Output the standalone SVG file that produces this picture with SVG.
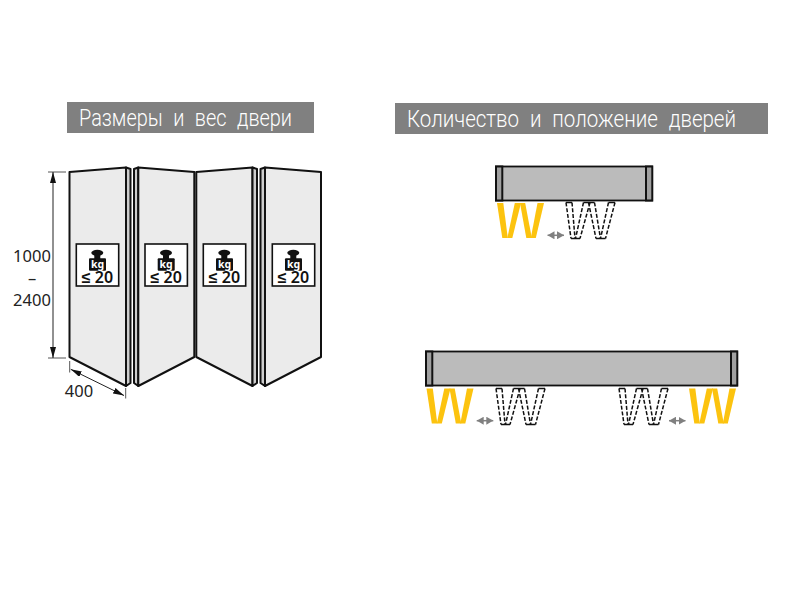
<svg xmlns="http://www.w3.org/2000/svg" width="800" height="600" viewBox="0 0 800 600">
<style>
.hdr{fill:#808080}
.ht{font-family:Roboto,"Open Sans",sans-serif;font-weight:300;font-size:24.500px;fill:#fff;word-spacing:7px}
.dim{font-family:"Noto Sans","Open Sans",sans-serif;font-size:16.500px;fill:#222;text-anchor:middle}
.door{fill:#ebebeb;stroke:#111;stroke-width:2;stroke-linejoin:round}
.side{fill:#cdcdcd;stroke:#111;stroke-width:2;stroke-linejoin:round}
.box{fill:#fff;stroke:#111;stroke-width:1.6}
.kg{font-family:"Noto Sans",sans-serif;font-weight:700;font-size:10.500px;fill:#fff;text-anchor:middle}
.w20{font-family:"Noto Sans",sans-serif;font-weight:600;font-size:16px;fill:#111;text-anchor:middle}
.ln{stroke:#222;stroke-width:1;fill:none}
.tick{stroke:#555;stroke-width:1;fill:none}
.bar{fill:#bbb;stroke:#111;stroke-width:1.8}
.cap{fill:#a0a0a0;stroke:#111;stroke-width:2}
.y{fill:#fcc30f}
.ds{fill:none;stroke:#111;stroke-width:1.500;stroke-dasharray:4 1.800}
.sc{fill:none;stroke:#111;stroke-width:1.500}
</style>
<defs>
<marker id="ah" viewBox="0 0 11 6" refX="11" refY="3" markerWidth="11" markerHeight="6" markerUnits="userSpaceOnUse" orient="auto-start-reverse"><path d="M0 0L11 3L0 6z" fill="#111"/></marker>
<marker id="ga" viewBox="0 0 7 8" refX="7" refY="4" markerWidth="7" markerHeight="8" markerUnits="userSpaceOnUse" orient="auto-start-reverse"><path d="M0 0L7 4L0 8z" fill="#808080"/></marker>
<g id="lbl">
<rect class="box" x="0" y="0" width="42.400" height="42"/>
<ellipse cx="21" cy="8.800" rx="6" ry="3" fill="#111"/>
<rect x="18" y="10" width="6" height="5" fill="#111"/>
<rect x="12.700" y="14.300" width="17" height="12.400" rx="1" fill="#111"/>
<text class="kg" x="21.200" y="23.800">kg</text>
<text class="w20" x="21.200" y="38.800">≤ 20</text>
</g>
<g id="yw">
<polygon class="y" points="0,0 6.300,0 10.800,35 5.300,35"/>
<polygon class="y" points="17.800,0 24,0 15.300,35 10.300,35"/>
<polygon class="y" points="23,0 28.200,0 34.800,35 29.300,35"/>
<polygon class="y" points="40.500,0 47,0 38.800,35 33.800,35"/>
</g>
<g id="dw">
<path class="ds" d="M1 1L6 37M7 1L10 37M18.500 1L10.500 37M25 1L15 37M23.500 1L31 37M29.500 1L35.500 37M43.500 1L35.500 37M50 1L40.500 37"/>
<path class="sc" d="M1 1H7M18.500 1H29.500M43.500 1H50M6 37H15M31 37H40.500"/>
</g>
</defs>
<g id="title-left">
<rect class="hdr" x="67" y="102" width="247" height="31"/>
<text class="ht" x="79" y="126" textLength="213" lengthAdjust="spacingAndGlyphs">Размеры и вес двери</text>
</g>
<g id="title-right">
<rect class="hdr" x="395" y="103" width="373" height="31"/>
<text class="ht" x="407" y="127" textLength="329" lengthAdjust="spacingAndGlyphs">Количество и положение дверей</text>
</g>
<g id="door-1">
<polygon class="door" points="69.500,172 126,167.500 126,386 69.500,357"/>
<polygon class="side" points="126,167.500 130.500,169 130.500,383 126,386"/>
<use href="#lbl" x="76.300" y="244"/>
</g>
<g id="door-2">
<polygon class="side" points="134,169 138.300,167.500 138.300,386 134,383"/>
<polygon class="door" points="138.300,167.500 194.300,172 194.300,357 138.300,386"/>
<use href="#lbl" x="145" y="244"/>
</g>
<g id="door-3">
<polygon class="door" points="196.300,172 252.500,167.500 252.500,386 196.300,357"/>
<polygon class="side" points="252.500,167.500 257,169 257,383 252.500,386"/>
<use href="#lbl" x="203.300" y="244"/>
</g>
<g id="door-4">
<polygon class="side" points="260.500,169 265,167.500 265,386 260.500,383"/>
<polygon class="door" points="265,167.500 321,172 321,357 265,386"/>
<use href="#lbl" x="272.300" y="244"/>
</g>
<g id="dimensions">
<path class="tick" d="M48 172H66M48 358H66M69.700 361V372.500M125.700 388V398.500"/>
<line class="ln" x1="53" y1="172" x2="53" y2="358" marker-start="url(#ah)" marker-end="url(#ah)"/>
<line class="ln" x1="70.700" y1="369.300" x2="124" y2="395.500" marker-start="url(#ah)" marker-end="url(#ah)"/>
<text class="dim" x="32" y="262">1000</text>
<text class="dim" x="32" y="284">–</text>
<text class="dim" x="32" y="306">2400</text>
<text class="dim" x="79" y="397">400</text>
</g>
<g id="track-1">
<rect class="bar" x="496" y="166.500" width="156" height="34"/>
<rect class="cap" x="496" y="166.500" width="6.300" height="34"/>
<rect class="cap" x="646" y="166.500" width="6.300" height="34"/>
</g>
<g id="track-2">
<rect class="bar" x="426" y="351.500" width="311" height="34"/>
<rect class="cap" x="426" y="351.500" width="6.300" height="34"/>
<rect class="cap" x="731" y="351.500" width="6.300" height="34"/>
</g>
<g id="doors-yellow">
<use href="#yw" x="497" y="203"/>
<use href="#yw" x="426.500" y="388.500"/>
<use href="#yw" x="689" y="388.500"/>
</g>
<g id="doors-dashed">
<use href="#dw" x="565" y="201.500"/>
<use href="#dw" x="495" y="387.500"/>
<use href="#dw" x="618" y="387.500"/>
</g>
<g id="connectors" stroke="#808080" stroke-width="1.500">
<line x1="547.500" y1="235.300" x2="564" y2="235.300" marker-start="url(#ga)" marker-end="url(#ga)"/>
<line x1="476.700" y1="420.700" x2="493.300" y2="420.700" marker-start="url(#ga)" marker-end="url(#ga)"/>
<line x1="669" y1="420.700" x2="685.500" y2="420.700" marker-start="url(#ga)" marker-end="url(#ga)"/>
</g>
</svg>
